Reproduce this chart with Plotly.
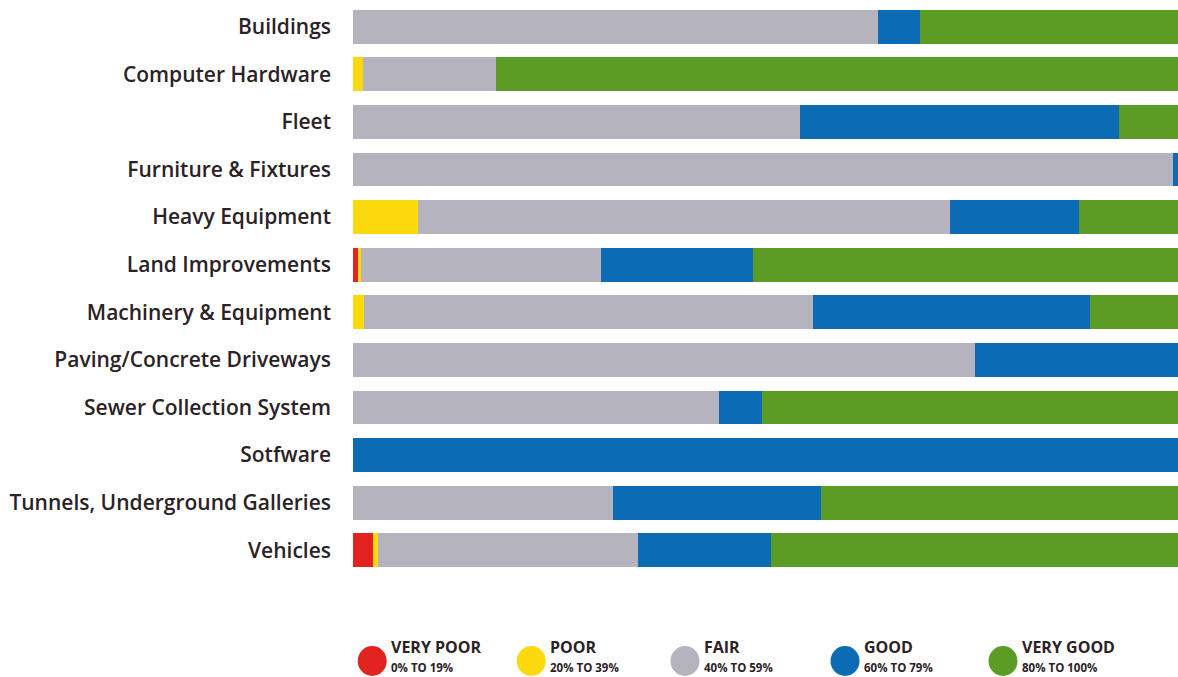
import plotly.graph_objects as go

categories = ["Buildings", "Computer Hardware", "Fleet", "Furniture & Fixtures", "Heavy Equipment",
              "Land Improvements", "Machinery & Equipment", "Paving/Concrete Driveways",
              "Sewer Collection System", "Sotfware", "Tunnels, Underground Galleries", "Vehicles"]

very_poor = [0, 0, 0, 0, 0, 0.6, 0, 0, 0, 0, 0, 2.4]
poor      = [0, 1.2, 0, 0, 7.9, 0.4, 1.3, 0, 0, 0, 0, 0.6]
fair      = [63.6, 16.1, 54.2, 99.4, 64.5, 29.1, 54.5, 75.4, 44.4, 0, 31.5, 31.5]
good      = [5.1, 0, 38.7, 0.6, 15.6, 18.4, 33.5, 24.6, 5.2, 100, 25.2, 16.2]
very_good = [31.3, 82.7, 7.1, 0, 12.0, 51.5, 10.7, 0, 50.4, 0, 43.3, 49.3]

series_names = ["VERY POOR", "POOR", "FAIR", "GOOD", "VERY GOOD"]
series_ranges = ["0% TO 19%", "20% TO 39%", "40% TO 59%", "60% TO 79%", "80% TO 100%"]
colors = ["#e2231f", "#fbd90c", "#b4b3be", "#0c6bb5", "#5a9c24"]
series = [very_poor, poor, fair, good, very_good]

FONT = "Open Sans, Lato, sans-serif"
TXT = "#2b2226"

fig = go.Figure()
for name, vals, col in zip(series_names, series, colors):
    fig.add_trace(go.Bar(y=categories, x=vals, orientation="h", name=name,
                         marker=dict(color=col, line=dict(width=0)), showlegend=False))

# custom legend (paper coords: plot area is 825 x 571 px, bottom at y=574)
def py(ypix):
    return (574 - ypix) / 571

legend_x = [0.0233, 0.2161, 0.4024, 0.5964, 0.7879]
for i, (name, rng, col) in enumerate(zip(series_names, series_ranges, colors)):
    cx = legend_x[i]
    fig.add_shape(type="circle", xref="paper", yref="paper",
                  x0=cx - 14.5 / 825, x1=cx + 14.5 / 825,
                  y0=py(676), y1=py(646),
                  fillcolor=col, line=dict(width=0), layer="above")
    fig.add_annotation(xref="paper", yref="paper", x=cx + 18 / 825, y=py(659),
                       xanchor="left", yanchor="bottom", align="left", showarrow=False,
                       text=name, borderpad=0,
                       font=dict(family=FONT, size=16, color=TXT, weight=700))
    fig.add_annotation(xref="paper", yref="paper", x=cx + 18 / 825, y=py(659),
                       xanchor="left", yanchor="top", align="left", showarrow=False,
                       text=rng, borderpad=0,
                       font=dict(family=FONT, size=11.5, color=TXT, weight=700))

fig.update_layout(
    barmode="stack",
    width=1178, height=677,
    margin=dict(l=353, r=0, t=3, b=103),
    paper_bgcolor="white", plot_bgcolor="white",
    bargap=0.29,
    font=dict(family=FONT, size=21, color=TXT),
    xaxis=dict(range=[0, 100], visible=False, fixedrange=True),
    yaxis=dict(autorange="reversed", showgrid=False, zeroline=False, showline=False,
               ticks="", ticklabelstandoff=21,
               tickfont=dict(family=FONT, size=21, color=TXT, weight=600)),
)

fig.write_html("out.html")
